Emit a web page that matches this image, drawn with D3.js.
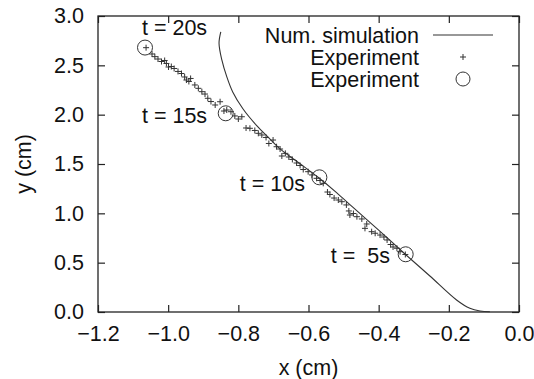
<!DOCTYPE html>
<html>
<head>
<meta charset="utf-8">
<script src="https://cdn.jsdelivr.net/npm/d3@7"></script>
<style>
  body { margin: 0; background: #fff; }
  text { font-family: "Liberation Sans", Arial, sans-serif; fill: #111; white-space: pre; }
</style>
</head>
<body>
<svg id="chart" width="534" height="379"></svg>
<script>
// numerical simulation trajectory (x, y in cm)
const simX = [-0.850, -0.855, -0.847, -0.833, -0.816, -0.787, -0.749, -0.711, -0.683, -0.625, -0.570, -0.520, -0.473, -0.400, -0.325, -0.254, -0.178, -0.140, -0.111, -0.083];
const simY = [2.840, 2.725, 2.555, 2.385, 2.230, 2.060, 1.895, 1.758, 1.658, 1.505, 1.358, 1.210, 1.060, 0.830, 0.588, 0.365, 0.122, 0.037, 0.010, 0.003];

// experiment, small crosses
const expX = [-1.063, -1.046, -1.038, -1.029, -1.019, -1.010, -1.005, -0.999, -0.991, -0.983,
  -0.972, -0.962, -0.953, -0.948, -0.941, -0.936, -0.924, -0.914, -0.904, -0.895,
  -0.887, -0.878, -0.866, -0.852, -0.841, -0.833, -0.821, -0.810, -0.800, -0.790,
  -0.778, -0.767, -0.753, -0.743, -0.733, -0.721, -0.713, -0.701, -0.691, -0.681,
  -0.676, -0.666, -0.656, -0.646, -0.634, -0.624, -0.615, -0.601, -0.590, -0.577,
  -0.567, -0.558, -0.546, -0.539, -0.527, -0.515, -0.505, -0.492, -0.485, -0.482,
  -0.472, -0.462, -0.448, -0.439, -0.434, -0.420, -0.410, -0.396, -0.385, -0.376,
  -0.366, -0.359, -0.348, -0.339, -0.324];
const expY = [2.679, 2.615, 2.588, 2.564, 2.539, 2.549, 2.519, 2.483, 2.488, 2.468,
  2.438, 2.417, 2.382, 2.351, 2.336, 2.367, 2.301, 2.267, 2.233, 2.209,
  2.166, 2.133, 2.098, 2.131, 2.037, 2.047, 2.030, 1.987, 1.956, 1.979,
  1.865, 1.862, 1.840, 1.811, 1.794, 1.769, 1.708, 1.743, 1.675, 1.652,
  1.581, 1.608, 1.571, 1.546, 1.510, 1.485, 1.444, 1.422, 1.389, 1.355,
  1.333, 1.304, 1.216, 1.191, 1.155, 1.135, 1.118, 1.085, 1.024, 0.983,
  0.998, 0.966, 0.943, 0.848, 0.892, 0.814, 0.798, 0.780, 0.760, 0.730,
  0.684, 0.659, 0.646, 0.611, 0.583];

// experiment, every 5 s (circles)
const markX = [-1.066, -0.836, -0.569, -0.323];
const markY = [2.680, 2.014, 1.365, 0.585];
const markLabels = ["t = 20s", "t = 15s", "t = 10s", "t =  5s"];
// label anchor (right end, baseline) in data units
const labelX = [-0.889, -0.889, -0.610, -0.368];
const labelY = [2.807, 1.916, 1.226, 0.497];

const xTicks = [-1.2, -1.0, -0.8, -0.6, -0.4, -0.2, 0.0];
const yTicks = [0.0, 0.5, 1.0, 1.5, 2.0, 2.5, 3.0];
const legendLabels = ["Num. simulation", "Experiment", "Experiment"];

const svg = d3.select("#chart");
const margin = { top: 16, right: 15, bottom: 67, left: 98 };
const width = 534 - margin.left - margin.right;
const height = 379 - margin.top - margin.bottom;
const fontSize = 21.5;
const ink = "#222";

const x = d3.scaleLinear().domain([-1.2, 0]).range([0, width]);
const y = d3.scaleLinear().domain([0, 3]).range([height, 0]);

const g = svg.append("g").attr("transform", `translate(${margin.left},${margin.top})`);

// inward ticks on all four sides (mirrored like gnuplot)
const tickLen = 7;
g.append("g")
  .attr("transform", `translate(0,${height})`)
  .call(d3.axisBottom(x).tickValues(xTicks).tickSizeInner(-tickLen).tickSizeOuter(0).tickPadding(14).tickFormat(d3.format(".1f")));
g.append("g")
  .call(d3.axisLeft(y).tickValues(yTicks).tickSizeInner(-tickLen).tickSizeOuter(0).tickPadding(14).tickFormat(d3.format(".1f")));
g.append("g")
  .call(d3.axisTop(x).tickValues(xTicks).tickSizeInner(-tickLen).tickSizeOuter(0).tickFormat(""));
g.append("g")
  .attr("transform", `translate(${width},0)`)
  .call(d3.axisRight(y).tickValues(yTicks).tickSizeInner(-tickLen).tickSizeOuter(0).tickFormat(""));

g.selectAll(".domain").remove();
g.selectAll(".tick line").attr("stroke", ink).attr("stroke-width", 1.2);
g.selectAll(".tick text")
  .attr("font-size", fontSize)
  .attr("font-family", "Liberation Sans, Arial, sans-serif")
  .attr("fill", "#111");

g.append("rect")
  .attr("width", width)
  .attr("height", height)
  .attr("fill", "none")
  .attr("stroke", ink)
  .attr("stroke-width", 1.3);

// axis titles
svg.append("text")
  .attr("x", margin.left + width / 2)
  .attr("y", 375)
  .attr("text-anchor", "middle")
  .attr("font-size", fontSize)
  .text("x (cm)");
svg.append("text")
  .attr("transform", `translate(31,${margin.top + height / 2}) rotate(-90)`)
  .attr("text-anchor", "middle")
  .attr("font-size", fontSize)
  .text("y (cm)");

// simulation curve
const simData = simX.map((d, i) => [d, simY[i]]);
const line = d3.line()
  .x((d) => x(d[0]))
  .y((d) => y(d[1]))
  .curve(d3.curveCatmullRom);
g.append("path")
  .datum(simData)
  .attr("fill", "none")
  .attr("stroke", "#333")
  .attr("stroke-width", 1.1)
  .attr("d", line);

// crosses
const plusPath = (s) => `M${-s},0H${s}M0,${-s}V${s}`;
const expData = expX.map((d, i) => [d, expY[i]]);
g.append("g")
  .selectAll("path")
  .data(expData)
  .join("path")
  .attr("transform", (d) => `translate(${x(d[0])},${y(d[1])})`)
  .attr("d", plusPath(3))
  .attr("stroke", "#333")
  .attr("stroke-width", 1)
  .attr("fill", "none");

// circles
const markData = markX.map((d, i) => [d, markY[i]]);
g.append("g")
  .selectAll("circle")
  .data(markData)
  .join("circle")
  .attr("cx", (d) => x(d[0]))
  .attr("cy", (d) => y(d[1]))
  .attr("r", 7.5)
  .attr("fill", "none")
  .attr("stroke", "#333")
  .attr("stroke-width", 1);

// time labels
g.append("g")
  .selectAll("text")
  .data(markLabels)
  .join("text")
  .attr("x", (d, i) => x(labelX[i]))
  .attr("y", (d, i) => y(labelY[i]))
  .attr("text-anchor", "end")
  .attr("font-size", fontSize)
  .text((d) => d);

// legend
const legend = svg.append("g");
const legTextX = 419, legSymX = 463;
const legY = [35, 57, 79];
legend.selectAll("text")
  .data(legendLabels)
  .join("text")
  .attr("x", legTextX)
  .attr("y", (d, i) => legY[i])
  .attr("dy", "0.36em")
  .attr("text-anchor", "end")
  .attr("font-size", fontSize)
  .text((d) => d);
legend.append("line")
  .attr("x1", 433).attr("x2", 493)
  .attr("y1", legY[0]).attr("y2", legY[0])
  .attr("stroke", "#333").attr("stroke-width", 1.1);
legend.append("path")
  .attr("transform", `translate(${legSymX},${legY[1]})`)
  .attr("d", plusPath(3))
  .attr("stroke", "#333").attr("stroke-width", 1);
legend.append("circle")
  .attr("cx", legSymX).attr("cy", legY[2]).attr("r", 7)
  .attr("fill", "none").attr("stroke", "#333").attr("stroke-width", 1);
</script>
</body>
</html>
